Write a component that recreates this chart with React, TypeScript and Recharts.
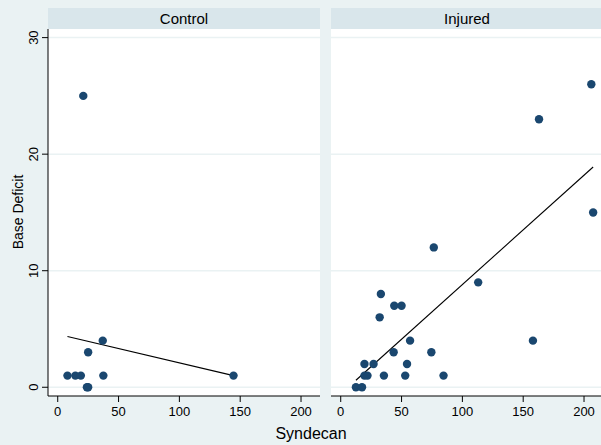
import { ScatterChart, Scatter, XAxis, YAxis, CartesianGrid, ReferenceLine } from 'recharts';

const xTicks = [0, 50, 100, 150, 200];
const yTicks = [0, 10, 20, 30];

const controlSyndecan = [8, 14.5, 19, 21, 24, 25, 25, 37, 37.5, 144.5];
const controlBaseDeficit = [1, 1, 1, 25, 0, 0, 3, 4, 1, 1];

const injuredSyndecan = [
  206, 163, 207.5, 76.5, 113, 33, 44, 50, 32, 57, 158, 43.5, 74.5, 19.5, 27, 54.5, 19.5, 22, 35.5, 53, 84.5, 12.5, 17.5,
];
const injuredBaseDeficit = [26, 23, 15, 12, 9, 8, 7, 7, 6, 4, 4, 3, 3, 2, 2, 2, 1, 1, 1, 1, 1, 0, 0];

// fitted lines, endpoints
const controlFit = [
  { x: 8, y: 4.35 },
  { x: 144.5, y: 1.0 },
];
const injuredFit = [
  { x: 12.5, y: 0.6 },
  { x: 207.5, y: 18.9 },
];

const FONT = '"Liberation Sans", Arial, Helvetica, sans-serif';
const DOT = '#1a476f';

function toPoints(xs: number[], ys: number[]) {
  return xs.map((x, i) => ({ x, y: ys[i] }));
}

function Dot(props: any) {
  const { cx, cy } = props;
  if (cx == null || cy == null) return <g />;
  return <circle cx={cx} cy={cy} r={4.2} fill={DOT} />;
}

function YTick(props: any) {
  const { x, y, payload } = props;
  return (
    <g transform={`translate(${x - 2},${y})`}>
      <text transform="rotate(-90)" textAnchor="middle" fontSize={13} fontFamily={FONT} fill="#000">
        {payload.value}
      </text>
    </g>
  );
}

interface PanelProps {
  title: string;
  left: number;
  width: number;
  showY: boolean;
  points: { x: number; y: number }[];
  fit: { x: number; y: number }[];
}

function Panel({ title, left, width, showY, points, fit }: PanelProps) {
  const yw = showY ? 48 : 0;
  return (
    <div style={{ position: 'absolute', left, top: 0, width, height: 445 }}>
      <div
        style={{
          position: 'absolute',
          left: yw,
          top: 8,
          width: width - yw,
          height: 21,
          lineHeight: '21px',
          background: '#d9e6eb',
          textAlign: 'center',
          fontFamily: FONT,
          fontSize: 15,
          color: '#000',
        }}
      >
        {title}
      </div>
      <ScatterChart width={width} height={445} margin={{ top: 29, right: 0, bottom: 19, left: 0 }}>
        <CartesianGrid fill="#ffffff" vertical={false} stroke="#eaf2f3" strokeWidth={1.5} horizontalValues={yTicks} />
        <XAxis
          type="number"
          dataKey="x"
          domain={[-8, 215.6]}
          ticks={xTicks}
          allowDataOverflow
          height={30}
          tickSize={6}
          tickMargin={5}
          axisLine={{ stroke: '#000', strokeWidth: 1 }}
          tickLine={{ stroke: '#000' }}
          tick={{ fontSize: 13, fontFamily: FONT, fill: '#000' }}
        />
        <YAxis
          type="number"
          dataKey="y"
          hide={!showY}
          width={48}
          domain={[-0.75, 30.74]}
          ticks={yTicks}
          allowDataOverflow
          tickSize={6}
          tickMargin={2}
          axisLine={{ stroke: '#000', strokeWidth: 1 }}
          tickLine={{ stroke: '#000' }}
          tick={<YTick />}
        />
        <Scatter data={points} shape={<Dot />} isAnimationActive={false} />
        <ReferenceLine segment={fit} stroke="#000" strokeWidth={1.1} ifOverflow="visible" />
      </ScatterChart>
    </div>
  );
}

export default function App() {
  return (
    <div
      style={{
        position: 'absolute',
        left: 0,
        top: 0,
        width: 601,
        height: 445,
        overflow: 'hidden',
        background: '#eaf2f3',
      }}
    >
      <style>{'body{margin:0}'}</style>
      <Panel
        title="Control"
        left={0}
        width={320}
        showY
        points={toPoints(controlSyndecan, controlBaseDeficit)}
        fit={controlFit}
      />
      <Panel
        title="Injured"
        left={331}
        width={272}
        showY={false}
        points={toPoints(injuredSyndecan, injuredBaseDeficit)}
        fit={injuredFit}
      />
      <svg width={601} height={445} style={{ position: 'absolute', left: 0, top: 0, pointerEvents: 'none' }}>
        <text transform="translate(22.5,212) rotate(-90)" textAnchor="middle" fontSize={14} fontFamily={FONT} fill="#000">
          Base Deficit
        </text>
        <text x={311} y={439} textAnchor="middle" fontSize={16} fontFamily={FONT} fill="#000">
          Syndecan
        </text>
      </svg>
    </div>
  );
}
